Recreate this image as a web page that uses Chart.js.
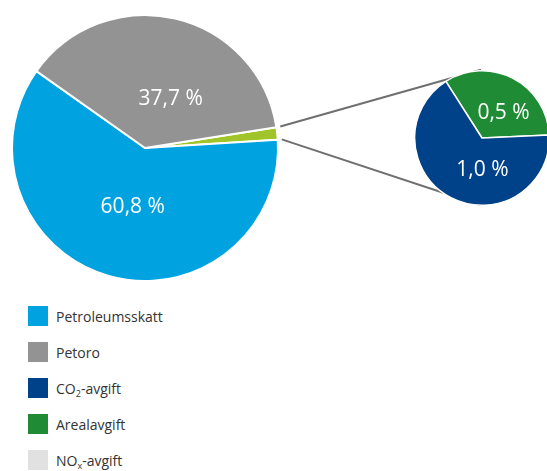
<!DOCTYPE html>
<html>
<head>
<meta charset="utf-8">
<script src="https://cdn.jsdelivr.net/npm/chart.js@4"></script>
<style>
  html, body { margin: 0; padding: 0; background: #fff; overflow: hidden; width: 547px; height: 471px; }
  body { position: relative; font-family: "Open Sans", sans-serif; }
  #mainChart { position: absolute; left: 0; top: 0; }
  #detailChart { position: absolute; left: 412px; top: 68px; }
  #legend { position: absolute; left: 28px; top: 299px; }
  .item { display: flex; align-items: center; height: 35.8px; font-size: 14px; color: #333; }
  .box { width: 20px; height: 20px; margin-right: 8px; margin-top: -1px; }
  sub { font-size: 9px; vertical-align: -3px; line-height: 0; }
</style>
</head>
<body>
<canvas id="mainChart" width="547" height="290"></canvas>
<canvas id="detailChart" width="140" height="140"></canvas>
<div id="legend"></div>
<script>
// main pie: the small slice is split out into the detail pie
const mainCategories = ["Andre avgifter", "Petroleumsskatt", "Petoro"];
const mainValues = [1.5, 60.8, 37.7];
const mainColors = ["#a0c42a", "#00a3e0", "#939393"];

const detailCategories = ["Arealavgift", "CO2-avgift", "NOx-avgift"];
const detailValues = [0.5, 1.0, 0.0];
const detailColors = ["#1f8c35", "#00428a", "#e1e1e1"];

const legendLabels = ["Petroleumsskatt", "Petoro", "CO<sub>2</sub>-avgift", "Arealavgift", "NO<sub>x</sub>-avgift"];
const legendColors = ["#00a3e0", "#939393", "#00428a", "#1f8c35", "#e1e1e1"];

function fmt(v) {
    return v.toFixed(1).replace(".", ",") + " %";
}

const valueLabels = {
    id: "valueLabels",
    afterDatasetsDraw(chart, args, opts) {
        const ctx = chart.ctx;
        const meta = chart.getDatasetMeta(0);
        const values = chart.data.datasets[0].data;
        ctx.save();
        ctx.fillStyle = "#fff";
        ctx.font = "21px 'Open Sans'";
        ctx.textAlign = "center";
        ctx.textBaseline = "middle";
        meta.data.forEach((arc, i) => {
            if (values[i] < opts.min) return;
            const mid = (arc.startAngle + arc.endAngle) / 2;
            const r = arc.outerRadius * opts.radius;
            ctx.fillText(fmt(values[i]), arc.x + Math.cos(mid) * r + opts.dx[i], arc.y + Math.sin(mid) * r + opts.dy[i]);
        });
        ctx.restore();
    }
};

const detailCanvas = document.getElementById("detailChart");
const detailChart = new Chart(detailCanvas, {
    type: "pie",
    data: {
        labels: detailCategories,
        datasets: [{
            data: detailValues,
            backgroundColor: detailColors,
            borderColor: "#fff",
            borderWidth: 1.5,
            hoverOffset: 0
        }]
    },
    options: {
        responsive: false,
        animation: false,
        events: [],
        rotation: -32.5,
        layout: { padding: 2 },
        plugins: {
            legend: { display: false },
            tooltip: { enabled: false },
            valueLabels: { min: 0.1, radius: 0.5, dx: [6, 16, 0], dy: [5, 2, 0] }
        }
    },
    plugins: [valueLabels]
});

const connectors = {
    id: "connectors",
    beforeDatasetsDraw(chart) {
        const ctx = chart.ctx;
        const arc = chart.getDatasetMeta(0).data[0];
        const small = detailChart.getDatasetMeta(0).data[0];
        const sx = small.x + detailCanvas.offsetLeft - 1;
        const top = small.y - small.outerRadius + detailCanvas.offsetTop - 1;
        const bottom = small.y + small.outerRadius + detailCanvas.offsetTop;
        const r = arc.outerRadius + 4;
        ctx.save();
        ctx.strokeStyle = "#6f6f6f";
        ctx.lineWidth = 2;
        ctx.beginPath();
        ctx.moveTo(arc.x + Math.cos(arc.startAngle) * r, arc.y + Math.sin(arc.startAngle) * r);
        ctx.lineTo(sx, top);
        ctx.moveTo(arc.x + Math.cos(arc.endAngle) * r, arc.y + Math.sin(arc.endAngle) * r);
        ctx.lineTo(sx, bottom);
        ctx.stroke();
        ctx.restore();
    }
};

new Chart(document.getElementById("mainChart"), {
    type: "pie",
    data: {
        labels: mainCategories,
        datasets: [{
            data: mainValues,
            backgroundColor: mainColors,
            borderColor: "#fff",
            borderWidth: 2,
            hoverOffset: 0
        }]
    },
    options: {
        responsive: false,
        animation: false,
        events: [],
        rotation: 81,
        layout: { padding: { left: 11, top: 14, right: 268, bottom: 8 } },
        plugins: {
            legend: { display: false },
            tooltip: { enabled: false },
            valueLabels: { min: 5, radius: 0.42, dx: [0, 3, 13], dy: [0, 5, 5] }
        }
    },
    plugins: [connectors, valueLabels]
});

const legend = document.getElementById("legend");
for (let i = 0; i < legendLabels.length; i++) {
    const row = document.createElement("div");
    row.className = "item";
    const box = document.createElement("div");
    box.className = "box";
    box.style.backgroundColor = legendColors[i];
    const txt = document.createElement("span");
    txt.innerHTML = legendLabels[i];
    row.append(box, txt);
    legend.append(row);
}
</script>
</body>
</html>
